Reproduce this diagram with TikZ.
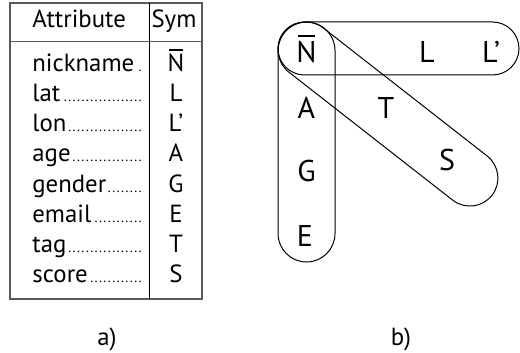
\documentclass[tikz,border=0pt]{standalone}
\usepackage{fontspec}
\setmainfont{PT Sans}
\newcommand{\dotlead}{\leaders\hbox to 2.2pt{\hss{\fontsize{7}{7}\selectfont.}\hss}\hfill}
\newcommand{\barN}{\leavevmode\hbox{\ooalign{N\cr\hidewidth\raisebox{0.86em}{\rule{0.56em}{0.055em}}\hidewidth\cr}}}
\begin{document}
\begin{tikzpicture}[x=0.5pt,y=-0.5pt,
    every node/.style={font=\fontsize{12.4}{15}\selectfont},
    attr/.style={anchor=base west,inner sep=0pt},
    sym/.style={anchor=base,inner sep=0pt},
    letter/.style={anchor=base,inner sep=0pt,font=\fontsize{15}{18}\selectfont},
    group/.style={draw,line width=0.5pt}]
  \useasboundingbox (0,0) rectangle (520,353);

  % a) table of attributes
  \draw[line width=0.7pt,black!65] (10,3) rectangle (202,299); % frame
  \draw[line width=0.6pt,black!65] (10,41.5) -- (202,41.5);    % header rule
  \draw[line width=0.5pt] (149,3) -- (149,299);                % column rule
  \node[attr] (head-attr) at (32,28) {Attribute};
  \node[sym] (head-sym) at (174,28) {Sym};
  \foreach \attr/\sym [count=\i] in {nickname/{\barN}, lat/L, lon/L’, age/A,
      gender/G, email/E, tag/T, score/S} {
    \pgfmathsetmacro{\y}{42+30*\i}
    \node[attr] (attr-\i) at (32,\y) {\hbox to 57pt{\attr\dotlead}};
    \node[sym] (sym-\i) at (176,\y) {\sym};
  }
  \node[sym] (cap-a) at (107,345) {a)};

  % b) groups of symbols
  \node[letter] (N) at (306.5,62.5) {\barN};
  \node[letter] (L) at (427,62.5) {L};
  \node[letter] (Lp) at (491,62.5) {L’};
  \node[letter] (A) at (306.5,118.5) {A};
  \node[letter] (T) at (386,118.5) {T};
  \node[letter] (G) at (306.5,182) {G};
  \node[letter] (S) at (447,170) {S};
  \node[letter] (E) at (305,247) {E};

  \draw[group, rounded corners=14.25pt] (278,22) rectangle (335,262); % column
  \draw[group, rounded corners=13.25pt] (278,22) rectangle (519,75);  % row
  \begin{scope}[shift={(306,50)}, rotate=-38]                       % diagonal
    \draw[group, rounded corners=14pt] (-28,-28) rectangle (236,28);
  \end{scope}
  \node[sym] (cap-b) at (401,345) {b)};
\end{tikzpicture}
\end{document}
